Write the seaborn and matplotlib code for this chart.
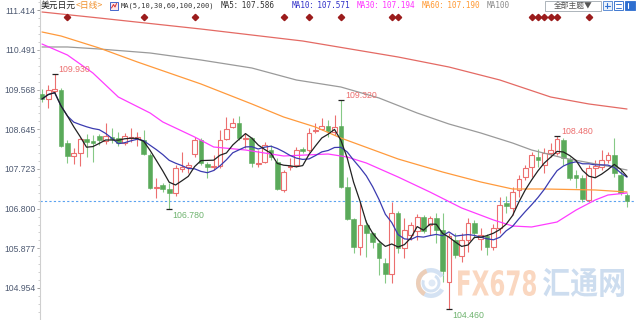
import numpy as np
import pandas as pd
import matplotlib
matplotlib.use("Agg")
import matplotlib.pyplot as plt
import seaborn as sns
from matplotlib.textpath import TextPath
from matplotlib.patches import PathPatch, Rectangle, Circle, Wedge
from matplotlib.font_manager import FontProperties
from matplotlib.transforms import Affine2D, blended_transform_factory
from matplotlib.ticker import FixedLocator

# ---------------- data ----------------
opens = [109.467, 109.351, 109.537, 109.560, 108.327, 108.025, 108.095, 108.420, 108.374, 108.490,
         108.374, 108.467, 108.443, 108.327, 108.443, 108.420, 108.397, 108.048, 107.280, 107.350,
         107.257, 107.164, 107.722, 107.769, 108.071, 108.397, 107.839, 107.769, 107.792, 108.420,
         108.699, 108.792, 108.420, 108.443, 107.839, 107.885, 108.164, 107.885, 107.234, 107.769,
         107.815, 108.188, 108.164, 108.606, 108.653, 108.723, 108.583, 108.723, 107.303, 106.559,
         105.908, 106.419, 106.233, 106.001, 105.535, 105.279, 106.699, 105.884, 106.187, 106.280,
         106.606, 106.419, 106.582, 106.303, 105.093, 106.070, 105.698, 106.070, 106.466, 106.094,
         106.164, 105.908, 106.350, 106.931, 106.815, 107.234, 107.536, 107.769, 108.001, 107.815,
         108.095, 108.095, 108.397, 107.955, 107.583, 107.513, 107.001, 107.746, 107.769, 107.932,
         108.048, 107.583, 107.117]
highs = [109.583, 109.677, 109.930, 109.607, 108.397, 108.211, 108.443, 108.537, 108.513, 108.537,
         108.792, 108.676, 108.583, 108.560, 108.676, 108.583, 108.630, 108.095, 107.513, 107.397,
         107.397, 107.815, 108.118, 107.885, 108.467, 108.443, 107.885, 108.048, 108.630, 108.932,
         108.909, 108.955, 108.560, 108.467, 108.164, 108.350, 108.281, 107.978, 107.699, 107.978,
         108.234, 108.234, 108.676, 108.792, 108.909, 108.862, 108.979, 109.320, 107.536, 106.582,
         106.955, 106.536, 106.257, 106.070, 105.652, 106.955, 106.745, 106.582, 106.489, 106.675,
         106.652, 106.629, 106.699, 106.699, 106.233, 106.233, 106.233, 106.582, 106.536, 106.350,
         106.210, 106.443, 107.071, 107.094, 107.303, 107.583, 107.815, 108.118, 108.188, 108.211,
         108.327, 108.480, 108.443, 108.001, 107.699, 107.583, 107.815, 107.932, 108.164, 108.118,
         108.443, 107.699, 107.164]
lows = [109.281, 109.141, 109.490, 108.234, 107.862, 107.839, 107.792, 108.001, 107.885, 108.281,
        108.304, 108.327, 108.257, 108.281, 108.350, 108.257, 108.048, 107.257, 107.048, 107.187,
        106.780, 107.094, 107.652, 107.629, 108.001, 107.815, 107.513, 107.699, 107.746, 108.397,
        108.676, 108.397, 108.211, 107.769, 107.769, 107.862, 107.932, 107.234, 107.187, 107.699,
        107.769, 108.095, 108.118, 108.560, 108.630, 108.467, 108.513, 107.280, 106.536, 105.768,
        105.721, 105.675, 105.884, 105.256, 105.070, 105.070, 105.768, 105.652, 106.070, 106.070,
        106.233, 106.187, 106.001, 105.093, 104.460, 105.652, 105.559, 105.791, 106.117, 105.838,
        105.721, 105.838, 106.233, 106.699, 106.652, 107.071, 107.466, 107.536, 107.769, 107.629,
        108.001, 108.048, 107.815, 107.466, 107.280, 106.955, 106.955, 107.536, 107.699, 107.862,
        107.536, 107.117, 106.838]
closes = [109.351, 109.560, 109.583, 108.257, 108.025, 108.095, 108.420, 108.350, 108.327, 108.397,
          108.490, 108.420, 108.327, 108.490, 108.467, 108.467, 108.071, 107.280, 107.303, 107.257,
          107.164, 107.746, 107.769, 107.815, 108.397, 107.862, 107.769, 107.792, 108.397, 108.653,
          108.792, 108.443, 108.443, 107.862, 107.862, 108.281, 108.001, 107.257, 107.652, 107.792,
          108.164, 108.141, 108.560, 108.630, 108.723, 108.606, 108.699, 107.303, 106.559, 105.908,
          106.419, 106.233, 106.024, 105.652, 105.279, 106.699, 105.884, 106.303, 106.419, 106.606,
          106.280, 106.582, 106.303, 105.349, 106.164, 105.721, 106.070, 106.466, 106.233, 106.187,
          105.908, 106.350, 106.885, 106.861, 107.187, 107.490, 107.746, 108.048, 107.932, 108.095,
          108.164, 108.420, 107.978, 107.513, 107.513, 107.024, 107.746, 107.792, 107.932, 108.048,
          107.629, 107.164, 106.966]

# long moving averages at candle indices
ma30_idx = [0, 4, 8, 12, 17, 19, 24, 27, 32, 38, 45, 48, 51, 56, 61, 66, 71, 74, 77, 81, 84, 87, 89, 92]
ma30_val = [110.630, 110.374, 109.956, 109.397, 109.025, 108.816, 108.467, 108.234, 108.164, 108.025,
            108.071, 108.001, 107.862, 107.536, 107.187, 106.815, 106.536, 106.396, 106.373, 106.489,
            106.768, 107.001, 107.117, 107.164]
ma60_idx = [0, 3, 9, 15, 25, 33, 38, 43, 47, 56, 63, 69, 74, 79, 87, 92]
ma60_val = [110.910, 110.816, 110.537, 110.212, 109.700, 109.235, 108.932, 108.699, 108.443, 107.955,
            107.652, 107.420, 107.257, 107.257, 107.234, 107.187]
ma100_idx = [0, 4, 9, 17, 25, 33, 40, 47, 53, 59, 64, 69, 74, 77, 82, 88, 92]
ma100_val = [110.561, 110.561, 110.514, 110.421, 110.258, 110.072, 109.793, 109.630, 109.374, 109.025,
             108.769, 108.560, 108.327, 108.164, 107.978, 107.815, 107.699]
ma200_idx = [0, 9, 25, 41, 56, 64, 72, 80, 86, 92]
ma200_val = [111.375, 111.235, 110.979, 110.700, 110.328, 110.095, 109.793, 109.397, 109.235, 109.118]

tick_vals = [111.414, 110.491, 109.568, 108.645, 107.723, 106.800, 105.877, 104.954]
tick_labels = ["111.414", "110.491", "109.568", "108.645", "107.723", "106.800", "105.877", "104.954"]

event_idx = [4, 16, 24, 38, 42, 47, 55, 56, 77, 78, 79, 80, 81, 86]
extreme_high_idx = [2, 47, 81]
extreme_low_idx = [20, 64]

title_name = "美元日元"
title_period = "<日线>"
ma_params = "MA(5,10,30,60,100,200)"
ma_texts = ["MA5：107.586", "MA10：107.571", "MA30：107.194", "MA60：107.190", "MA100"]
theme_button = "全部主题▼"
wm_latin = "FX678"
wm_cjk = "汇通网"

# ---------------- style ----------------
sns.set_theme(style="white")
plt.rcParams["font.family"] = ["Liberation Sans", "Noto Sans CJK SC", "DejaVu Sans"]

RED = "#ec6f6f"
GREEN = "#5aaa5a"
GREEN_WICK = "#86c986"
MONO = ["DejaVu Sans Mono", "Noto Sans CJK SC"]
CJK = ["Noto Sans CJK SC", "DejaVu Sans"]

W, H = 640, 320
fig = plt.figure(figsize=(6.4, 3.2), dpi=100)
fig.patch.set_facecolor("white")
ax = fig.add_axes([40 / W, 0, 595 / W, 1])
n = len(closes)
px_per = 585 / (n - 1)
ax.set_xlim(-2 / px_per, (635 - 42) / px_per)
ax.set_ylim(104.209, 111.654)

o = np.array(opens); h = np.array(highs); l = np.array(lows); c = np.array(closes)
idx = np.arange(n)
up = c >= o

# wicks
ax.vlines(idx[up], l[up], h[up], color=RED, lw=0.8, zorder=2)
ax.vlines(idx[~up], l[~up], h[~up], color=GREEN_WICK, lw=0.8, zorder=2)
# bodies
bottoms = np.minimum(o, c)
heights = np.maximum(np.abs(c - o), 0.006)
ax.bar(idx[up], heights[up], bottom=bottoms[up], width=0.74, facecolor="white",
       edgecolor=RED, linewidth=0.8, zorder=3)
ax.bar(idx[~up], heights[~up], bottom=bottoms[~up], width=0.74, facecolor=GREEN,
       edgecolor=GREEN, linewidth=0.4, zorder=3)

# moving averages
s = pd.Series(c)
ma5 = s.rolling(5, min_periods=1).mean()
ma10 = s.rolling(10, min_periods=1).mean()
sns.lineplot(x=ma200_idx, y=ma200_val, ax=ax, color="#e46a64", linewidth=0.9, zorder=4)
sns.lineplot(x=ma100_idx, y=ma100_val, ax=ax, color="#9a9a9a", linewidth=0.9, zorder=4)
sns.lineplot(x=ma60_idx, y=ma60_val, ax=ax, color="#ff9a3c", linewidth=0.9, zorder=4)
sns.lineplot(x=ma30_idx, y=ma30_val, ax=ax, color="#ff3cff", linewidth=0.9, zorder=4)
sns.lineplot(x=idx, y=ma10.values, ax=ax, color="#3b3bb0", linewidth=0.9, zorder=4)
sns.lineplot(x=idx, y=ma5.values, ax=ax, color="#222222", linewidth=0.9, zorder=4)

# last price dashed line
ax.axhline(c[-1], color="#5aa2f0", lw=0.8, ls=(0, (2, 2)), zorder=1.5)

# event diamonds
tr_ev = blended_transform_factory(ax.transData, ax.transAxes)
ax.plot(event_idx, [1 - 17 / H] * len(event_idx), "D", color="#9b1c1c", ms=3.2,
        transform=tr_ev, zorder=5, clip_on=False)

# extreme annotations
for i in extreme_high_idx:
    ax.plot(i, h[i], marker="_", ms=5, mew=0.9, color="#222", zorder=5)
    ax.annotate(f"{h[i]:.3f}", (i, h[i]), xytext=(4, 4.5), textcoords="offset pixels",
                ha="left", va="center", fontsize=6.3, color=RED, zorder=6)
for i in extreme_low_idx:
    ax.plot(i, l[i], marker="_", ms=5, mew=0.9, color="#222", zorder=5)
    ax.annotate(f"{l[i]:.3f}", (i, l[i]), xytext=(3.5, -6), textcoords="offset pixels",
                ha="left", va="center", fontsize=6.3, color="#6fb36f", zorder=6)

# axes cosmetics
for sp in ["top", "right", "bottom"]:
    ax.spines[sp].set_visible(False)
ax.spines["left"].set_color("#cfcfcf")
ax.spines["left"].set_linewidth(0.8)
ax.set_xticks([])
ax.set_yticks(tick_vals)
ax.set_yticklabels(tick_labels)
step = (tick_vals[0] - tick_vals[-1]) / (len(tick_vals) - 1)
minor = [tick_vals[-1] + k * step / 5 for k in range(-5, 5 * len(tick_vals) + 5)]
ax.yaxis.set_minor_locator(FixedLocator(minor))
ax.tick_params(axis="y", which="major", direction="out", length=2.5, width=0.7,
               color="#9a9a9a", labelsize=6.2, labelcolor="#4e5a72", pad=0.8, left=True)
ax.tick_params(axis="y", which="minor", direction="out", length=1.2, width=0.6,
               color="#c8c8c8", left=True)
ax.set_xlabel("")
ax.set_ylabel("")

# ---------------- header ----------------
def fx(x):
    return x / W

def fy(y):
    return 1 - y / H

yh = 5.5
fig.text(fx(41), fy(yh), title_name, family=CJK, fontsize=6.3, color="#222", va="center")
fig.text(fx(76), fy(yh), title_period, family=CJK, fontsize=6.3, color="#f0902c", va="center")
px_tr = Affine2D().scale(1, -1).translate(0, H).scale(1 / 100) + fig.dpi_scale_trans
fig.add_artist(Rectangle((110, 1.5), 8, 8, transform=px_tr, facecolor="#fde6ea",
                         edgecolor="#4466cc", lw=0.7))
fig.add_artist(plt.Line2D([111.5, 113.5, 115, 116.5], [8, 4.5, 7, 3.5], transform=px_tr,
                          color="#d03030", lw=0.7))
fig.text(fx(121), fy(yh), ma_params, family=MONO, fontsize=5.0, color="#333", va="center")
ma_x = [221, 292, 357, 422, 487]
ma_col = ["#333333", "#3030c8", "#ff33ff", "#ff9933", "#8a8a8a"]
for t, x, col in zip(ma_texts, ma_x, ma_col):
    fig.text(fx(x), fy(yh), t, family=MONO, fontsize=5.6, color=col, va="center")

# theme button + icons
fig.add_artist(Rectangle((545, 1), 56, 9.5, transform=px_tr, facecolor="white",
                         edgecolor="#a0a8b0", lw=0.6))
fig.text(fx(573), fy(yh), theme_button, family=CJK, fontsize=5.6, color="#555",
         ha="center", va="center")
fig.add_artist(Rectangle((603, 1), 8.5, 9, transform=px_tr, facecolor="#eaf2fc",
                         edgecolor="#4a80d0", lw=0.6))
fig.add_artist(plt.Line2D([605, 609.5], [5.5, 5.5], transform=px_tr, color="#2f6fd0", lw=0.8))
fig.add_artist(plt.Line2D([607.25, 607.25], [3, 8], transform=px_tr, color="#2f6fd0", lw=0.8))
fig.add_artist(Rectangle((614, 1), 8.5, 9, transform=px_tr, facecolor="#ffffff",
                         edgecolor="#3f78d0", lw=0.7))
fig.add_artist(plt.Line2D([616, 620.5], [4, 4], transform=px_tr, color="#3f78d0", lw=0.7))
fig.add_artist(plt.Line2D([616, 620.5], [7.5, 7.5], transform=px_tr, color="#3f78d0", lw=0.7))
fig.add_artist(Rectangle((625, 1), 10, 9, transform=px_tr, facecolor="#2f6fd0",
                         edgecolor="#2f6fd0", lw=0.6))
fig.add_artist(plt.Line2D([628, 628], [3, 8], transform=px_tr, color="white", lw=0.8))

# ---------------- watermark ----------------
def box_text(s, x0, y0, x1, y1, color, family, alpha):
    fp = FontProperties(family=family, weight="bold")
    tp = TextPath((0, 0), s, size=10, prop=fp)
    bb = tp.get_extents()
    sx = (x1 - x0) / bb.width
    sy = (y1 - y0) / bb.height
    t = (Affine2D().translate(-bb.x0, -bb.y0).scale(sx, sy).translate(x0, H - y1)
         .scale(1 / 100) + fig.dpi_scale_trans)
    fig.add_artist(PathPatch(tp, transform=t, facecolor=color, edgecolor="none", alpha=alpha))

box_text(wm_latin, 458, 270, 536, 296, "#f8c29e", "DejaVu Sans", 0.65)
box_text(wm_cjk, 543, 268, 624, 297, "#b3cbe7", "Noto Sans CJK SC", 0.65)
cx, cy = 431, 283
fig.add_artist(Wedge((cx, cy), 15, 30, 330, width=4.5, transform=px_tr,
                     facecolor="#c3d7ee", edgecolor="none", alpha=0.7))
fig.add_artist(Wedge((cx, cy), 15, 120, 250, width=4.5, transform=px_tr,
                     facecolor="#f7c6a0", edgecolor="none", alpha=0.7))
fig.add_artist(Wedge((cx, cy), 9.5, 300, 200, width=3, transform=px_tr,
                     facecolor="#c3d7ee", edgecolor="none", alpha=0.7))
fig.add_artist(Circle((cx + 1, cy), 3.5, transform=px_tr, facecolor="#d3e2f3",
                      edgecolor="none", alpha=0.7))

fig.savefig("out.png", dpi=100, facecolor="white")
